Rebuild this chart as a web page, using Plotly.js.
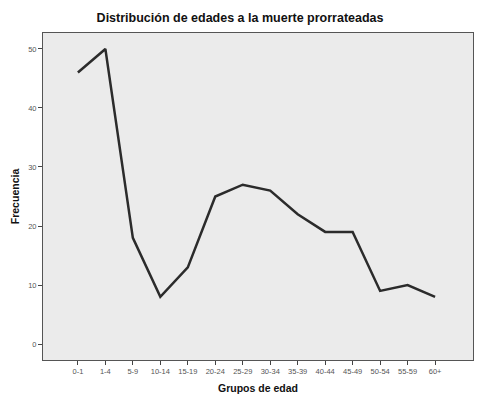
<!DOCTYPE html>
<html><head><meta charset="utf-8">
<script src="https://cdn.plot.ly/plotly-3.0.1.min.js"></script>
<style>body{margin:0;background:#fff}#c{width:495px;height:399px}</style>
</head><body><div id="c"></div>
<script>
const categories = ["0-1","1-4","5-9","10-14","15-19","20-24","25-29","30-34","35-39","40-44","45-49","50-54","55-59","60+"];
const frecuencia = [46, 50, 18, 8, 13, 25, 27, 26, 22, 19, 19, 9, 10, 8];
const yTicks = [0, 10, 20, 30, 40, 50];

const trace = {
  x: categories.map((_, i) => i),
  y: frecuencia,
  type: 'scatter', mode: 'lines',
  line: {color: '#2b2b2b', width: 2.5},
  hoverinfo: 'skip'
};
const layout = {
  width: 495, height: 399,
  margin: {l: 43, r: 22, t: 33, b: 39},
  paper_bgcolor: '#ffffff', plot_bgcolor: '#ebebeb',
  showlegend: false,
  title: {text: '<b>Distribución de edades a la muerte prorrateadas</b>', x: 0.485, xanchor: 'center', y: 0.955, yanchor: 'middle',
          font: {family: 'Liberation Sans, Arial', size: 12.5, color: '#111'}},
  xaxis: {
    range: [-1.27, 14.38], tickmode: 'array', tickvals: categories.map((_, i) => i), ticktext: categories,
    ticks: 'outside', ticklen: 4, tickcolor: '#444', showgrid: false, zeroline: false,
    showline: true, linecolor: '#555', linewidth: 1, mirror: true,
    tickfont: {family: 'Liberation Sans, Arial', size: 7.5, color: '#555'},
    title: {text: '<b>Grupos de edad</b>', standoff: 9, font: {family: 'Liberation Sans, Arial', size: 10.5, color: '#111'}}
  },
  yaxis: {
    range: [-2.7, 52.7], tickmode: 'array', tickvals: yTicks,
    ticks: 'outside', ticklen: 4, tickcolor: '#444', showgrid: false, zeroline: false,
    showline: true, linecolor: '#555', linewidth: 1, mirror: true,
    tickfont: {family: 'Liberation Sans, Arial', size: 7.5, color: '#555'},
    title: {text: '<b>Frecuencia</b>', standoff: 6, font: {family: 'Liberation Sans, Arial', size: 10.5, color: '#111'}}
  }
};
Plotly.newPlot('c', [trace], layout, {staticPlot: true, displayModeBar: false});
</script></body></html>
